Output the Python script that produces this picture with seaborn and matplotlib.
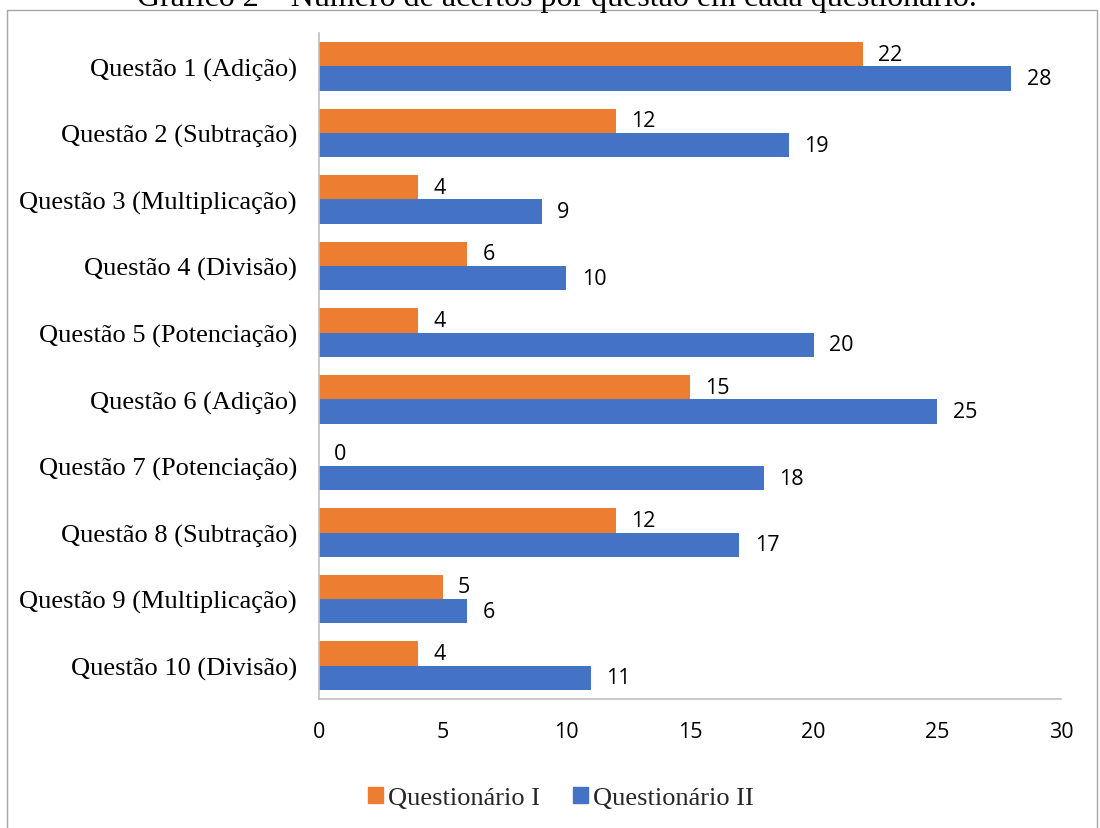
import matplotlib
matplotlib.use("Agg")
import matplotlib.pyplot as plt
import seaborn as sns
import pandas as pd
from matplotlib.patches import Rectangle

# Acertos por questão em cada questionário
questoes = [
    "Questão 1 (Adição)",
    "Questão 2 (Subtração)",
    "Questão 3 (Multiplicação)",
    "Questão 4 (Divisão)",
    "Questão 5 (Potenciação)",
    "Questão 6 (Adição)",
    "Questão 7 (Potenciação)",
    "Questão 8 (Subtração)",
    "Questão 9 (Multiplicação)",
    "Questão 10 (Divisão)",
]
questionario_1 = [22, 12, 4, 6, 4, 15, 0, 12, 5, 4]
questionario_2 = [28, 19, 9, 10, 20, 25, 18, 17, 6, 11]
series_names = ["Questionário I", "Questionário II"]
x_ticks = [0, 5, 10, 15, 20, 25, 30]
titulo = "Gráfico 2 – Número de acertos por questão em cada questionário."

df = pd.DataFrame({
    "Questão": questoes * 2,
    "Acertos": questionario_1 + questionario_2,
    "Questionário": [series_names[0]] * len(questoes) + [series_names[1]] * len(questoes),
})

sns.set_theme(style="white")
serif = ["Liberation Serif", "DejaVu Serif"]
num_font = ["Open Sans", "DejaVu Sans"]

fig = plt.figure(figsize=(11, 8.29), dpi=100)
ax = fig.add_axes([0.29, 0.1556, 0.6745, 0.8034])

palette = {series_names[0]: "#ED7D31", series_names[1]: "#4472C4"}
sns.barplot(data=df, y="Questão", x="Acertos", hue="Questionário",
            order=questoes, hue_order=series_names, palette=palette,
            orient="h", width=0.73, saturation=1, linewidth=0, ax=ax, legend=True)

ax.set_xlim(0, 30)
ax.set_xticks(x_ticks)
ax.set_xticklabels([str(t) for t in x_ticks], fontfamily=num_font, fontsize=15.5)
ax.set_yticks(range(len(questoes)))
ax.set_yticklabels(questoes, fontfamily=serif, fontsize=19)
ax.tick_params(axis="x", length=0, pad=16, colors="black")
ax.tick_params(axis="y", length=0, pad=16, colors="black")
ax.set_xlabel("")
ax.set_ylabel("")
for s in ["top", "right"]:
    ax.spines[s].set_visible(False)
for s in ["left", "bottom"]:
    ax.spines[s].set_color("#bfbfbf")
    ax.spines[s].set_linewidth(1.2)

# value labels next to each bar
for container in ax.containers:
    ax.bar_label(container, labels=[f"{int(v)}" for v in container.datavalues],
                 padding=11, fontfamily=num_font, fontsize=15.5, color="black")

leg = ax.get_legend()
leg.remove()
handles = [Rectangle((0, 0), 1, 1, color=palette[n]) for n in series_names]
fig.legend(handles, series_names, loc="center", bbox_to_anchor=(561 / 1100, 1 - 799 / 829),
           ncol=2, frameon=False, prop={"family": serif, "size": 19},
           handlelength=0.55, handleheight=0.55, handletextpad=0.2, columnspacing=1.25)

# outer frame of the chart area
fig.patches.append(Rectangle((7 / 1100, -0.02), 1090 / 1100, 1.02 - 11 / 829,
                             transform=fig.transFigure, fill=False,
                             edgecolor="#a6a6a6", linewidth=1.0))

fig.text(557 / 1100, 1 - 6 / 829, titulo, ha="center", va="baseline",
         fontfamily=serif, fontsize=23, color="black")

fig.savefig("out.png", dpi=100)
